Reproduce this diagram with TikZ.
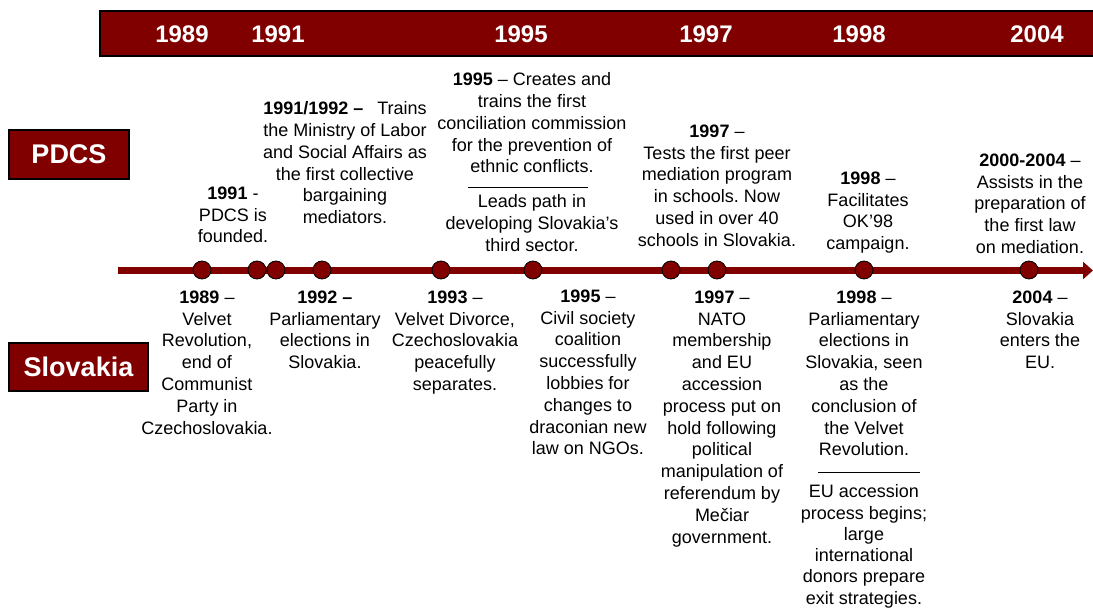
\documentclass[tikz,border=0pt]{standalone}
\usepackage{fontspec}
\setmainfont{Liberation Sans}
\usetikzlibrary{arrows.meta}
\definecolor{darkred}{HTML}{800000}
\frenchspacing
\begin{document}
\begin{tikzpicture}[x=1pt,y=-1pt,
  evt/.style={align=center, inner sep=0pt, anchor=north, font=\fontsize{18}{21.8}\selectfont},
  yearlbl/.style={text=white, inner sep=0pt, font=\fontsize{24}{28}\selectfont\bfseries},
  tagbox/.style={fill=darkred, draw=black, line width=1.8pt, text=white, inner sep=0pt, font=\fontsize{27}{30}\selectfont\bfseries},
  dotnode/.style={circle, fill=darkred, draw=black, line width=0.8pt, minimum size=18pt, inner sep=0pt},
  sepline/.style={draw=black, line width=0.9pt}]
\useasboundingbox (0,0) rectangle (1093,609);
\begin{scope}
\clip (0,0) rectangle (1093,609);
\draw[fill=darkred, draw=black, line width=2.2pt] (100,11) rectangle (1110,56);
\end{scope}
\node[yearlbl] (y1989) at (182,34) {1989};
\node[yearlbl] (y1991) at (278,34) {1991};
\node[yearlbl] (y1995) at (521,34) {1995};
\node[yearlbl] (y1997) at (706,34) {1997};
\node[yearlbl] (y1998) at (859,34) {1998};
\node[yearlbl] (y2004) at (1037,34) {2004};

\node[tagbox, minimum width=120pt, minimum height=49pt] (pdcs) at (69,154.5) {PDCS};
\node[tagbox, minimum width=139pt, minimum height=48pt] (slovakia) at (78.5,367) {Slovakia};

% timeline
\coordinate (tlstart) at (118,270.5);
\coordinate (tlend) at (1093,270.5);
\draw[darkred, line width=7pt, -{Triangle[length=10pt,width=17pt]}] (tlstart) -- (tlend);
\node[dotnode] (d1) at (202,270) {};
\node[dotnode] (d2) at (257,270) {};
\node[dotnode] (d3) at (276,270) {};
\node[dotnode] (d4) at (322,270) {};
\node[dotnode] (d5) at (441,270) {};
\node[dotnode] (d6) at (533,270) {};
\node[dotnode] (d7) at (671,270) {};
\node[dotnode] (d8) at (717,270) {};
\node[dotnode] (d9) at (864,270) {};
\node[dotnode] (d10) at (1029,270) {};

% PDCS events
\node[evt] (p1991) at (233,186.5) {\textbf{1991} -\\PDCS is\\founded.};
\node[evt] (p1992) at (345,101.5) {\textbf{1991/1992 –}\hspace{14pt}Trains\\the Ministry of Labor\\and Social Affairs as\\the first collective\\bargaining\\mediators.};
\node[evt] (p1995a) at (532,72.5) {\textbf{1995} – Creates and\\trains the first\\conciliation commission\\for the prevention of\\ethnic conflicts.};
\coordinate (r95a) at (468,187);
\coordinate (r95b) at (588,187);
\draw[sepline] (r95a) -- (r95b);
\node[evt] (p1995b) at (532,194.5) {Leads path in\\developing Slovakia’s\\third sector.};
\node[evt] (p1997) at (717,124.5) {\textbf{1997} –\\Tests the first peer\\mediation program\\in schools. Now\\used in over 40\\schools in Slovakia.};
\node[evt] (p1998) at (868,171.5) {\textbf{1998} –\\Facilitates\\OK’98\\campaign.};
\node[evt] (p2000) at (1030,153.5) {\textbf{2000-2004} –\\Assists in the\\preparation of\\the first law\\on mediation.};

% Slovakia events
\node[evt] (s1989) at (207,290.5) {\textbf{1989} –\\Velvet\\Revolution,\\end of\\Communist\\Party in\\Czechoslovakia.};
\node[evt] (s1992) at (325,290.5) {\textbf{1992 –}\\Parliamentary\\elections in\\Slovakia.};
\node[evt] (s1993) at (455,290.5) {\textbf{1993} –\\Velvet Divorce,\\Czechoslovakia\\peacefully\\separates.};
\node[evt] (s1995) at (588,289.5) {\textbf{1995} –\\Civil society\\coalition\\successfully\\lobbies for\\changes to\\draconian new\\law on NGOs.};
\node[evt] (s1997) at (722,290.5) {\textbf{1997} –\\NATO\\membership\\and EU\\accession\\process put on\\hold following\\political\\manipulation of\\referendum by\\Mečiar\\government.};
\node[evt] (s1998a) at (864,290.5) {\textbf{1998} –\\Parliamentary\\elections in\\Slovakia, seen\\as the\\conclusion of\\the Velvet\\Revolution.};
\coordinate (r98a) at (818,472);
\coordinate (r98b) at (920,472);
\draw[sepline] (r98a) -- (r98b);
\node[evt, font=\fontsize{18}{21.3}\selectfont] (s1998b) at (864,484.5) {EU accession\\process begins;\\large\\international\\donors prepare\\exit strategies.};
\node[evt] (s2004) at (1040,290.5) {\textbf{2004} –\\Slovakia\\enters the\\EU.};
\end{tikzpicture}
\end{document}
